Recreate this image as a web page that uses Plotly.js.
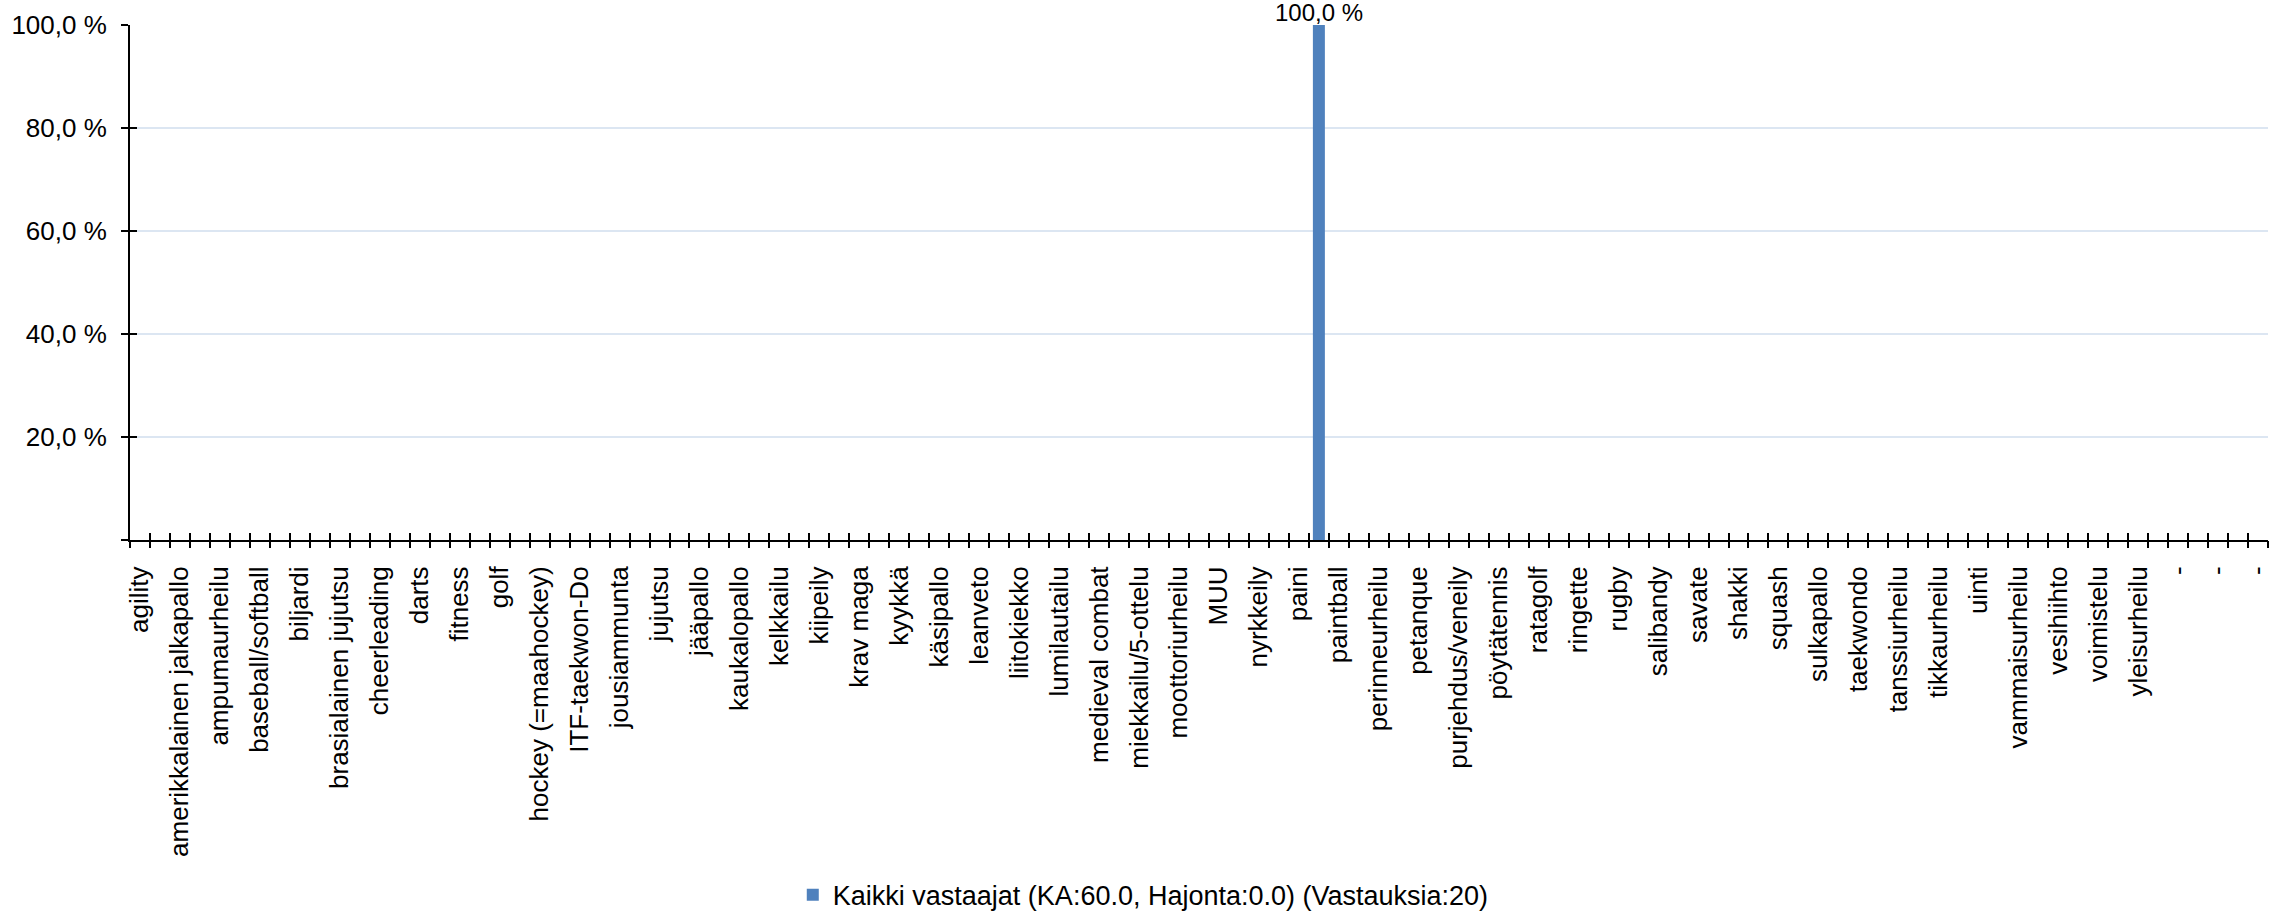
<!DOCTYPE html>
<html>
<head>
<meta charset="utf-8">
<script src="https://cdn.plot.ly/plotly-3.0.1.min.js"></script>
<style>
  html, body { margin: 0; padding: 0; background: #ffffff; }
  #chart { width: 2287px; height: 913px; }
</style>
</head>
<body>
<div id="chart"></div>
<script>
// Visible category labels (Excel shows every other category label)
const tickLabels = [
  "agility", "amerikkalainen jalkapallo", "ampumaurheilu", "baseball/softball", "biljardi",
  "brasialainen jujutsu", "cheerleading", "darts", "fitness", "golf",
  "hockey (=maahockey)", "ITF-taekwon-Do", "jousiammunta", "jujutsu", "jääpallo",
  "kaukalopallo", "kelkkailu", "kiipeily", "krav maga", "kyykkä",
  "käsipallo", "leanveto", "liitokiekko", "lumilautailu", "medieval combat",
  "miekkailu/5-ottelu", "moottoriurheilu", "MUU", "nyrkkeily", "paini",
  "paintball", "perinneurheilu", "petanque", "purjehdus/veneily", "pöytätennis",
  "ratagolf", "ringette", "rugby", "salibandy", "savate",
  "shakki", "squash", "sulkapallo", "taekwondo", "tanssiurheilu",
  "tikkaurheilu", "uinti", "vammaisurheilu", "vesihiihto", "voimistelu",
  "yleisurheilu", "-", "-", "-"
];

// Share of respondents (%) for each of the 107 categories (labelled and unlabelled, in axis order)
const valuesPct = [
  0, 0, 0, 0, 0, 0, 0, 0, 0, 0,
  0, 0, 0, 0, 0, 0, 0, 0, 0, 0,
  0, 0, 0, 0, 0, 0, 0, 0, 0, 0,
  0, 0, 0, 0, 0, 0, 0, 0, 0, 0,
  0, 0, 0, 0, 0, 0, 0, 0, 0, 0,
  0, 0, 0, 0, 0, 0, 0, 0, 0, 100,
  0, 0, 0, 0, 0, 0, 0, 0, 0, 0,
  0, 0, 0, 0, 0, 0, 0, 0, 0, 0,
  0, 0, 0, 0, 0, 0, 0, 0, 0, 0,
  0, 0, 0, 0, 0, 0, 0, 0, 0, 0,
  0, 0, 0, 0, 0, 0, 0
];

const seriesName = "Kaikki vastaajat (KA:60.0, Hajonta:0.0) (Vastauksia:20)";
const yTickValues = [0, 20, 40, 60, 80, 100];

// ---- derived ----
const fmt = v => v.toFixed(1).replace('.', ',') + ' %';
const xIdx = valuesPct.map((_, i) => i);
const labelPos = tickLabels.map((_, k) => 2 * k);
const boundaries = [];
for (let i = 0; i <= valuesPct.length; i++) boundaries.push(i - 0.5);
const xRange = [-0.5, valuesPct.length - 0.5];
const yTickText = yTickValues.map(v => v === 0 ? "" : fmt(v));

const FONT = '"Liberation Sans", Arial, sans-serif';

const traces = [
  {
    type: 'bar',
    x: xIdx,
    y: valuesPct,
    name: seriesName,
    width: 0.6,
    marker: { color: '#4F81BD', line: { width: 0 } },
    hoverinfo: 'skip'
  },
  { type: 'scatter', x: [], y: [], xaxis: 'x2', yaxis: 'y', showlegend: false, hoverinfo: 'skip' },
  { type: 'scatter', x: [], y: [], xaxis: 'x3', yaxis: 'y', showlegend: false, hoverinfo: 'skip' },
  { type: 'scatter', x: [], y: [], xaxis: 'x', yaxis: 'y2', showlegend: false, hoverinfo: 'skip' }
];

// data labels for non-zero bars
const dataLabels = [];
valuesPct.forEach((v, i) => {
  if (v > 0) {
    dataLabels.push({
      x: xIdx[i], y: v, xref: 'x', yref: 'y',
      text: fmt(v),
      showarrow: false,
      xanchor: 'center', yanchor: 'bottom',
      yshift: -3,
      font: { family: FONT, size: 24, color: '#000000' }
    });
  }
});

const layout = {
  width: 2287,
  height: 913,
  margin: { l: 130, r: 19, t: 25, b: 373, pad: 0, autoexpand: false },
  paper_bgcolor: '#ffffff',
  plot_bgcolor: '#ffffff',
  font: { family: FONT, size: 26, color: '#000000' },
  showlegend: true,
  bargap: 0.4,
  annotations: dataLabels,
  xaxis: {
    type: 'linear',
    range: xRange,
    tickmode: 'array',
    tickvals: labelPos,
    ticktext: tickLabels,
    tickangle: -90,
    ticks: '',
    ticklabelstandoff: 14,
    tickfont: { family: FONT, size: 26, color: '#000000' },
    showgrid: false,
    zeroline: false,
    showline: true,
    linecolor: '#000000',
    linewidth: 2,
    automargin: false,
    fixedrange: true
  },
  xaxis2: {
    overlaying: 'x',
    anchor: 'y',
    side: 'bottom',
    matches: 'x',
    range: xRange,
    tickmode: 'array',
    tickvals: boundaries,
    ticks: 'outside',
    ticklen: 7,
    tickwidth: 2,
    tickcolor: '#000000',
    showticklabels: false,
    showgrid: false,
    zeroline: false,
    showline: false,
    automargin: false
  },
  xaxis3: {
    overlaying: 'x',
    anchor: 'y',
    side: 'bottom',
    matches: 'x',
    range: xRange,
    tickmode: 'array',
    tickvals: boundaries,
    ticks: 'inside',
    ticklen: 7,
    tickwidth: 2,
    tickcolor: '#000000',
    showticklabels: false,
    showgrid: false,
    zeroline: false,
    showline: false,
    automargin: false
  },
  yaxis: {
    range: [0, 100],
    tickmode: 'array',
    tickvals: yTickValues,
    ticktext: yTickText,
    ticks: 'outside',
    ticklen: 7,
    tickwidth: 2,
    tickcolor: '#000000',
    ticklabelstandoff: 9,
    tickfont: { family: FONT, size: 26, color: '#000000' },
    showgrid: true,
    gridcolor: '#DCE6F2',
    gridwidth: 2,
    zeroline: false,
    showline: true,
    linecolor: '#000000',
    linewidth: 2,
    automargin: false,
    fixedrange: true
  },
  yaxis2: {
    overlaying: 'y',
    anchor: 'x',
    side: 'left',
    matches: 'y',
    range: [0, 100],
    tickmode: 'array',
    tickvals: yTickValues,
    ticks: 'inside',
    ticklen: 7,
    tickwidth: 2,
    tickcolor: '#000000',
    showticklabels: false,
    showgrid: false,
    zeroline: false,
    showline: false,
    automargin: false
  },
  legend: {
    orientation: 'h',
    x: 0.31,
    xanchor: 'left',
    yref: 'container',
    y: 0.0196,
    yanchor: 'middle',
    font: { family: FONT, size: 27, color: '#000000' },
    bgcolor: 'rgba(0,0,0,0)',
    borderwidth: 0,
    itemwidth: 30
  }
};

Plotly.newPlot('chart', traces, layout, { staticPlot: true, displayModeBar: false });
</script>
</body>
</html>
